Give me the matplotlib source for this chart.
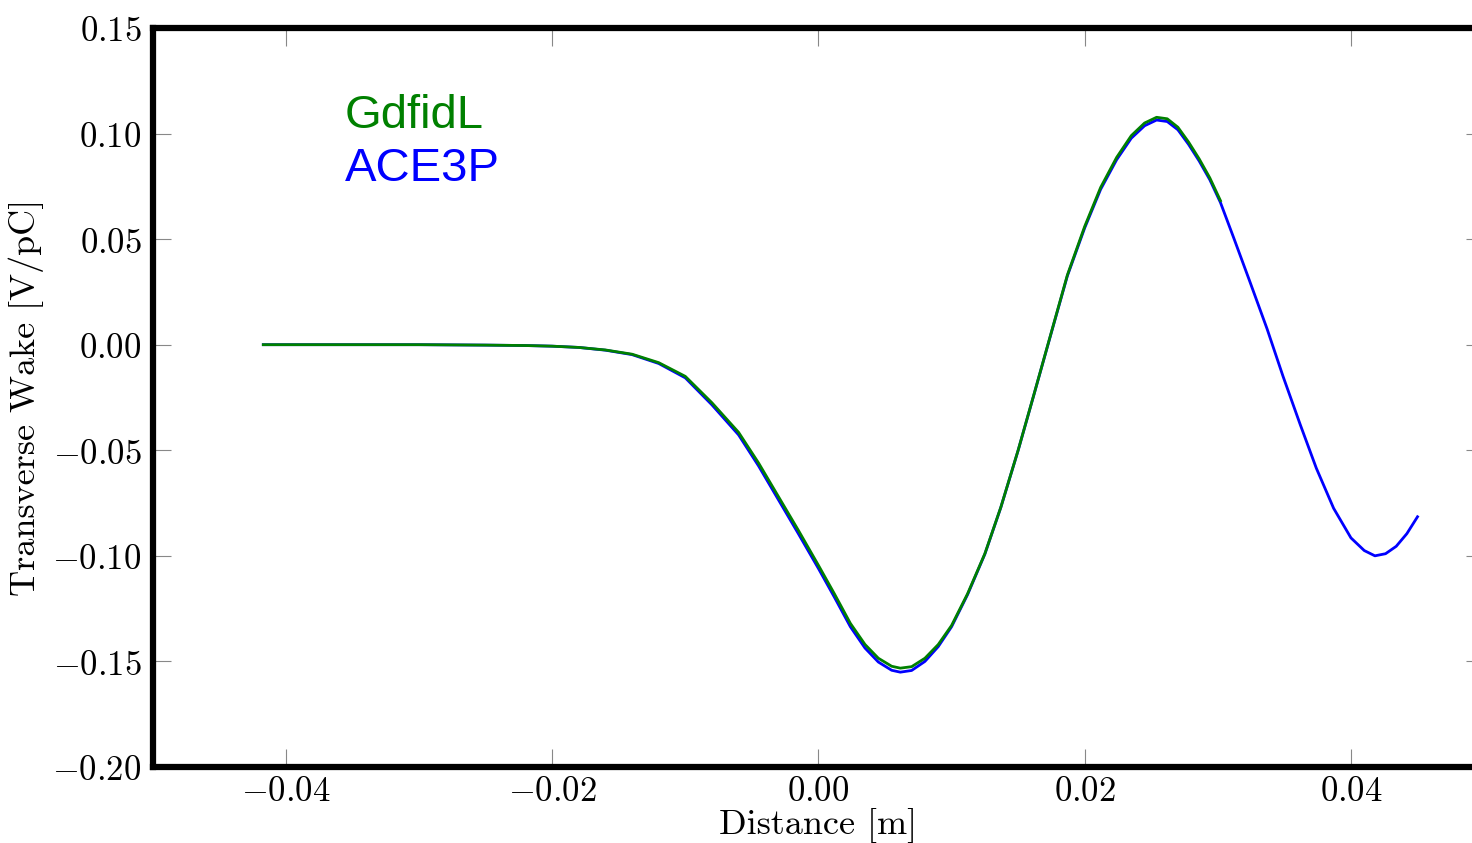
import matplotlib
matplotlib.use("Agg")
import matplotlib.pyplot as plt
from matplotlib.ticker import FuncFormatter

plt.rcParams['mathtext.fontset'] = 'cm'

# GdfidL wake
gdfidl_x = [-0.0417, -0.035, -0.030, -0.025, -0.022, -0.020, -0.018, -0.016,
            -0.014, -0.012, -0.010, -0.008, -0.006, -0.0045, -0.003, -0.0015,
            0.0000, 0.0012, 0.0024, 0.0035, 0.0045, 0.0055, 0.00615, 0.0070,
            0.0080, 0.0090, 0.0100, 0.0112, 0.0125, 0.0137, 0.0150, 0.0162,
            0.0175, 0.0187, 0.0200, 0.0212, 0.0224, 0.0235, 0.0245, 0.0254,
            0.0262, 0.0270, 0.0278, 0.0286, 0.0294, 0.0302]
gdfidl_y = [0.0, 0.0, 0.0, -0.0002, -0.0004, -0.0007, -0.0013, -0.0025,
            -0.0045, -0.0085, -0.0150, -0.0275, -0.0415, -0.0560, -0.0720, -0.0880,
            -0.1045, -0.1180, -0.1320, -0.1420, -0.1485, -0.1523, -0.1532, -0.1525,
            -0.1485, -0.1420, -0.1330, -0.1180, -0.0990, -0.0770, -0.0500, -0.0233,
            0.0060, 0.0330, 0.0560, 0.0745, 0.0887, 0.0990, 0.1050, 0.1077,
            0.1070, 0.1030, 0.0960, 0.0880, 0.0790, 0.0682]

# ACE3P wake
ace3p_x = [-0.0417, -0.035, -0.030, -0.025, -0.022, -0.020, -0.018, -0.016,
           -0.014, -0.012, -0.010, -0.008, -0.006, -0.0045, -0.003, -0.0015,
           0.0000, 0.0012, 0.0024, 0.0035, 0.0045, 0.0055, 0.00615, 0.0070,
           0.0080, 0.0090, 0.0100, 0.0112, 0.0125, 0.0137, 0.0150, 0.0162,
           0.0175, 0.0187, 0.0200, 0.0212, 0.0224, 0.0235, 0.0245, 0.0254,
           0.0262, 0.0270, 0.0278, 0.0286, 0.0294, 0.0302, 0.0312, 0.0324,
           0.0337, 0.0349, 0.0362, 0.0374, 0.0387, 0.0400, 0.0410, 0.0418,
           0.0426, 0.0434, 0.0442, 0.0450]
ace3p_y = [0.0, 0.0, 0.0, -0.0002, -0.0004, -0.0007, -0.0013, -0.0026,
           -0.0047, -0.0089, -0.0157, -0.0285, -0.0427, -0.0574, -0.0735, -0.0896,
           -0.1060, -0.1196, -0.1336, -0.1437, -0.1503, -0.1542, -0.1551, -0.1543,
           -0.1500, -0.1430, -0.1336, -0.1184, -0.0992, -0.0771, -0.0501, -0.0234,
           0.0058, 0.0326, 0.0553, 0.0736, 0.0876, 0.0978, 0.1037, 0.1064,
           0.1057, 0.1018, 0.0949, 0.0870, 0.0781, 0.0673, 0.0505, 0.0300,
           0.0075, -0.0150, -0.0380, -0.0585, -0.0775, -0.0915, -0.0975, -0.1000,
           -0.0990, -0.0955, -0.0895, -0.0815]

xticks = [-0.04, -0.02, 0.00, 0.02, 0.04]
yticks = [-0.20, -0.15, -0.10, -0.05, 0.00, 0.05, 0.10, 0.15]

fig = plt.figure(figsize=(14.72, 8.43), dpi=100)
ax = fig.add_axes([0.1038, 0.0902, 0.9044, 0.8766])

ax.plot(ace3p_x, ace3p_y, color='#0000ff', lw=2.0)
ax.plot(gdfidl_x, gdfidl_y, color='#008000', lw=2.0)

ax.set_xlim(-0.05, 0.05)
ax.set_ylim(-0.20, 0.15)
ax.set_xticks(xticks)
ax.set_yticks(yticks)
fmt = FuncFormatter(lambda v, p: r'$%.2f$' % v)
ax.xaxis.set_major_formatter(fmt)
ax.yaxis.set_major_formatter(fmt)

ax.tick_params(direction='in', length=13, width=0.8, color='#888888',
               top=True, right=True, labelsize=25, pad=8)
ax.tick_params(axis='x', pad=5)
for s in ax.spines.values():
    s.set_linewidth(4.5)

ax.set_xlabel('Distance [m]', fontsize=26, family='cmr10', labelpad=0)
ax.set_ylabel('Transverse Wake [V/pC]', fontsize=26, family='cmr10', labelpad=6)

ax.text(0.1444, 0.8647, 'GdfidL', color='#008000', fontsize=34,
        family='Liberation Sans', transform=ax.transAxes, va='baseline')
ax.text(0.1444, 0.793, 'ACE3P', color='#0000ff', fontsize=34,
        family='Liberation Sans', transform=ax.transAxes, va='baseline')

fig.savefig('out.png', dpi=100)
